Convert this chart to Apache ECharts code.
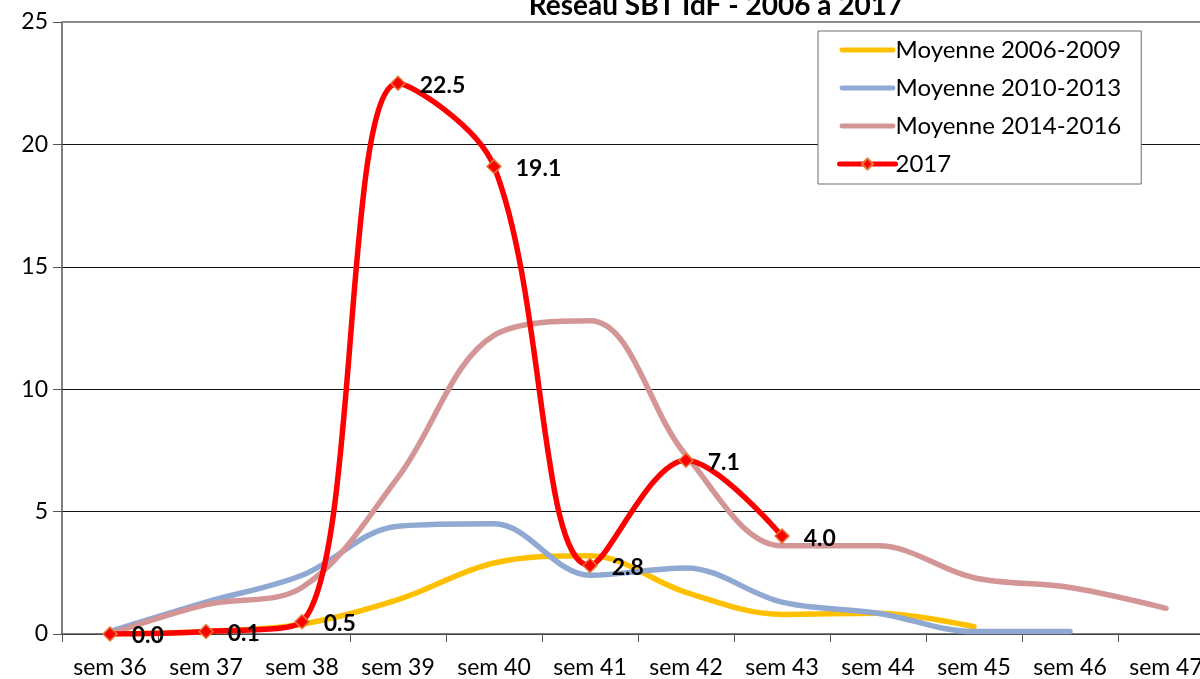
<!DOCTYPE html>
<html>
<head>
    <meta charset="utf-8">
    <title>Réseau SBT IdF</title>
    <script src="https://cdn.jsdelivr.net/npm/echarts@6/dist/echarts.min.js"></script>
    <style>
        html, body { margin: 0; padding: 0; background: #fff; overflow: hidden; }
        /* le graphique d'origine déborde un peu à droite */
        #chart { width: 1216px; height: 679px; }
    </style>
</head>
<body>
<div id="chart"></div>
<script>
    // semaines
    var semaines = ['sem 36', 'sem 37', 'sem 38', 'sem 39', 'sem 40', 'sem 41',
        'sem 42', 'sem 43', 'sem 44', 'sem 45', 'sem 46', 'sem 47'];

    var moy0609 = [0, 0.1, 0.4, 1.4, 2.9, 3.2, 1.7, 0.8, 0.85, 0.3];
    var moy1013 = [0.1, 1.3, 2.4, 4.4, 4.5, 2.4, 2.7, 1.3, 0.85, 0.1, 0.1];
    var moy1416 = [0, 1.2, 1.9, 6.4, 12.2, 12.8, 7.3, 3.6, 3.6, 2.3, 1.9, 1.05];
    var an2017 = [0.0, 0.1, 0.5, 22.5, 19.1, 2.8, 7.1, 4.0];

    var police = 'Lato, "Noto Sans", sans-serif';
    var barre = 'path://M2,0 L54,0 A2,2 0 0 1 54,5 L2,5 A2,2 0 0 1 2,0 Z';
    var lissage = 0.35;

    var dom = document.getElementById('chart');
    var myChart = echarts.init(dom, null, {renderer: 'canvas'});

    var option = {
        animation: false,
        backgroundColor: '#fff',
        textStyle: {fontFamily: police},
        title: {
            text: 'Réseau SBT IdF - 2006 à 2017',
            left: 711,
            textAlign: 'center',
            top: -13,
            textStyle: {fontSize: 28, fontWeight: 'bold', color: '#000', fontFamily: police}
        },
        legend: {
            orient: 'vertical',
            left: 818,
            top: 31,
            padding: [7, 20, 8, 19],
            itemGap: 14,
            itemWidth: 56,
            itemHeight: 14,
            backgroundColor: '#fff',
            borderColor: '#6e6e6e',
            borderWidth: 1,
            textStyle: {fontSize: 24, color: '#000', fontFamily: police, padding: [0, 0, 0, -5]},
            data: [
                {name: 'Moyenne 2006-2009', icon: barre},
                {name: 'Moyenne 2010-2013', icon: barre},
                {name: 'Moyenne 2014-2016', icon: barre},
                {name: '2017', lineStyle: {width: 5, color: '#FF0000'}}
            ]
        },
        grid: {
            left: 62,
            right: 2,
            top: 22,
            bottom: 45,
            containLabel: false
        },
        xAxis: {
            type: 'category',
            data: semaines,
            boundaryGap: true,
            axisLine: {lineStyle: {color: '#555', width: 1.5}},
            axisTick: {show: true, length: 8, alignWithLabel: false, lineStyle: {color: '#555'}},
            axisLabel: {fontSize: 23, color: '#000', margin: 22, interval: 0}
        },
        yAxis: {
            type: 'value',
            min: 0,
            max: 25,
            interval: 5,
            axisLine: {show: true, lineStyle: {color: '#555', width: 1.5}},
            axisTick: {show: true, length: 9, inside: false, lineStyle: {color: '#555'}},
            axisLabel: {fontSize: 23, color: '#000', margin: 14},
            splitLine: {lineStyle: {color: '#111', width: 1}}
        },
        series: [
            {
                name: 'Moyenne 2006-2009',
                type: 'line',
                data: moy0609,
                smooth: lissage,
                symbol: 'none',
                z: 2,
                itemStyle: {color: '#FFC000'},
                lineStyle: {color: '#FFC000', width: 5.5, cap: 'round'}
            },
            {
                name: 'Moyenne 2010-2013',
                type: 'line',
                data: moy1013,
                smooth: lissage,
                symbol: 'none',
                z: 3,
                itemStyle: {color: '#8FA9D3'},
                lineStyle: {color: '#8FA9D3', width: 5.5, cap: 'round'}
            },
            {
                name: 'Moyenne 2014-2016',
                type: 'line',
                data: moy1416,
                smooth: lissage,
                symbol: 'none',
                z: 4,
                itemStyle: {color: '#D39595'},
                lineStyle: {color: '#D39595', width: 5.5, cap: 'round'},
                markLine: {
                    silent: true,
                    symbol: 'none',
                    label: {show: false},
                    lineStyle: {color: '#8c8c8c', width: 2, type: 'solid'},
                    data: [{yAxis: 25}]
                }
            },
            {
                name: '2017',
                type: 'line',
                data: an2017,
                smooth: lissage,
                symbol: 'diamond',
                symbolSize: 14,
                z: 5,
                itemStyle: {color: '#FF0000', borderColor: '#E07B39', borderWidth: 1.5},
                lineStyle: {color: '#FF0000', width: 5.5, cap: 'round'},
                label: {
                    show: true,
                    position: 'right',
                    distance: 14,
                    offset: [0, 2],
                    fontSize: 23,
                    fontWeight: 'bold',
                    color: '#000',
                    fontFamily: police,
                    formatter: function (p) { return p.value.toFixed(1); }
                }
            }
        ]
    };

    myChart.setOption(option);
    window.addEventListener('resize', myChart.resize);
</script>
</body>
</html>
